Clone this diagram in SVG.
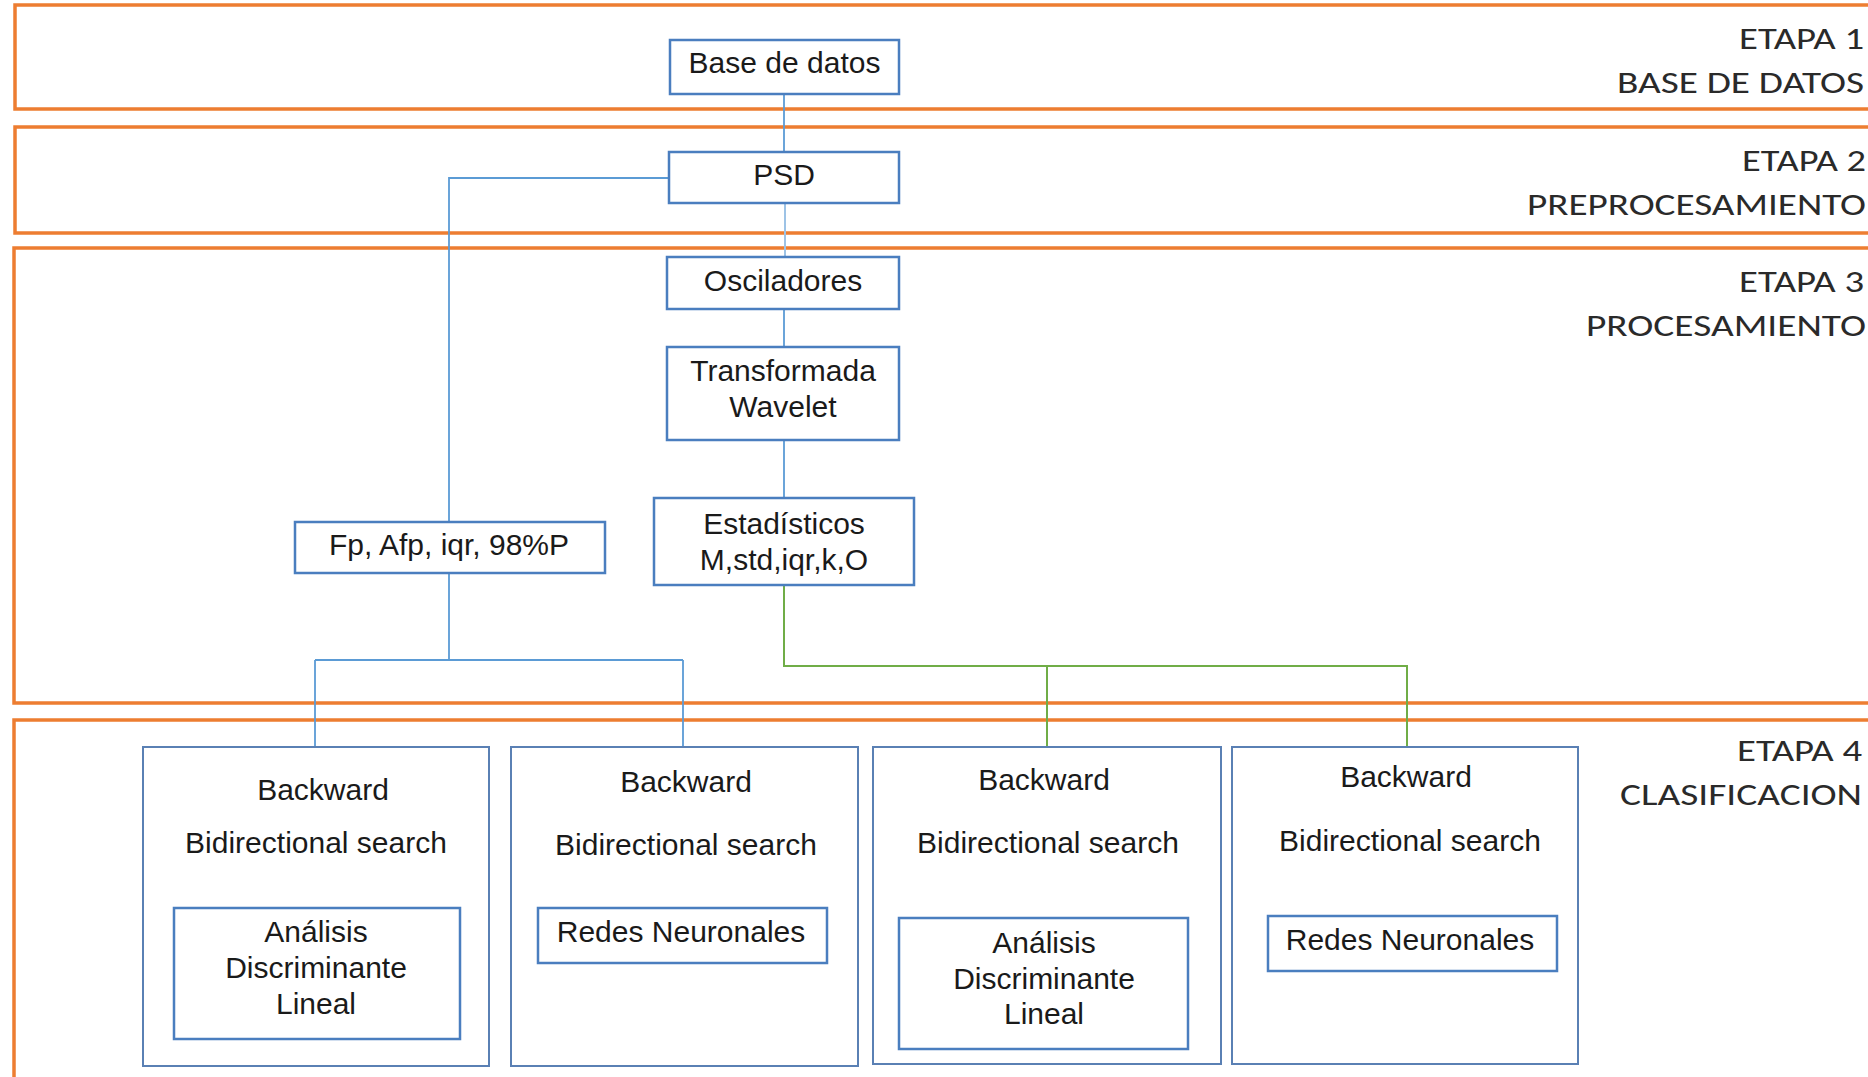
<svg xmlns="http://www.w3.org/2000/svg" width="1868" height="1077" viewBox="0 0 1868 1077">
<style>
.band{fill:none;stroke:#ED7D31;stroke-width:3.5}
.node{fill:#fff;stroke:#4A7EBF;stroke-width:2.5}
.outer{fill:#fff;stroke:#5A80B4;stroke-width:2}
.t{font-family:"Liberation Sans",Arial,sans-serif;font-size:30px;fill:#1a1a1a;text-anchor:middle}
.e{font-family:Carlito,Lato,"Open Sans",sans-serif;font-size:30px;font-weight:300;fill:#2a2a2a;text-anchor:end}
.cb{fill:none;stroke:#5B9BD5;stroke-width:1.8}
.cl{fill:none;stroke:#9DC3E6;stroke-width:2}
.cg{fill:none;stroke:#70AD47;stroke-width:2}
</style>
<rect width="1868" height="1077" fill="#fff"/>
<g id="bands">
<rect class="band" x="15" y="5" width="1900" height="104"/>
<rect class="band" x="15" y="127" width="1900" height="106"/>
<rect class="band" x="14" y="248" width="1900" height="455"/>
<rect class="band" x="14" y="720" width="1900" height="400"/>
</g>
<g id="labels">
<text class="e" x="1864" y="49" textLength="125" lengthAdjust="spacingAndGlyphs">ETAPA 1</text>
<text class="e" x="1864" y="93" textLength="247" lengthAdjust="spacingAndGlyphs">BASE DE DATOS</text>
<text class="e" x="1866" y="171" textLength="124" lengthAdjust="spacingAndGlyphs">ETAPA 2</text>
<text class="e" x="1866" y="215" textLength="339" lengthAdjust="spacingAndGlyphs">PREPROCESAMIENTO</text>
<text class="e" x="1864" y="292" textLength="125" lengthAdjust="spacingAndGlyphs">ETAPA 3</text>
<text class="e" x="1866" y="336" textLength="280" lengthAdjust="spacingAndGlyphs">PROCESAMIENTO</text>
<text class="e" x="1862" y="761" textLength="125" lengthAdjust="spacingAndGlyphs">ETAPA 4</text>
<text class="e" x="1862" y="805" textLength="242" lengthAdjust="spacingAndGlyphs">CLASIFICACION</text>
</g>
<g id="connectors">
<path class="cb" d="M784,94 V152"/>
<path class="cb" d="M669,178 H449 V522"/>
<path class="cl" d="M785,203 V257"/>
<path class="cb" d="M784,309 V347"/>
<path class="cb" d="M784,440 V498"/>
<path class="cb" d="M449,573 V660 M315,660 H683 M315,660 V747 M683,660 V747"/>
<path class="cg" d="M784,586 V666 H1407 V747 M1047,666 V747"/>
</g>
<g id="base-de-datos"><rect class="node" x="670" y="40" width="229" height="54"/><text class="t" x="784.5" y="73">Base de datos</text></g>
<g id="psd"><rect class="node" x="669" y="152" width="230" height="51"/><text class="t" x="784" y="185">PSD</text></g>
<g id="osciladores"><rect class="node" x="667" y="257" width="232" height="52"/><text class="t" x="783" y="291">Osciladores</text></g>
<g id="transformada"><rect class="node" x="667" y="347" width="232" height="93"/><text class="t" x="783" y="381">Transformada</text><text class="t" x="783" y="417">Wavelet</text></g>
<g id="estadisticos"><rect class="node" x="654" y="498" width="260" height="87"/><text class="t" x="784" y="534">Estadísticos</text><text class="t" x="784" y="570">M,std,iqr,k,O</text></g>
<g id="fp"><rect class="node" x="295" y="522" width="310" height="51"/><text class="t" x="449" y="555">Fp, Afp, iqr, 98%P</text></g>
<g id="clas-a">
<rect class="outer" x="143" y="747" width="346" height="319"/>
<text class="t" x="323" y="800">Backward</text>
<text class="t" x="316" y="853">Bidirectional search</text>
<rect class="node" x="174" y="908" width="286" height="131"/>
<text class="t" x="316" y="942">Análisis</text><text class="t" x="316" y="978">Discriminante</text><text class="t" x="316" y="1014">Lineal</text>
</g>
<g id="clas-b">
<rect class="outer" x="511" y="747" width="347" height="319"/>
<text class="t" x="686" y="792">Backward</text>
<text class="t" x="686" y="855">Bidirectional search</text>
<rect class="node" x="538" y="908" width="289" height="55"/>
<text class="t" x="681" y="942">Redes Neuronales</text>
</g>
<g id="clas-c">
<rect class="outer" x="873" y="747" width="348" height="317"/>
<text class="t" x="1044" y="790">Backward</text>
<text class="t" x="1048" y="853">Bidirectional search</text>
<rect class="node" x="899" y="918" width="289" height="131"/>
<text class="t" x="1044" y="953">Análisis</text><text class="t" x="1044" y="989">Discriminante</text><text class="t" x="1044" y="1024">Lineal</text>
</g>
<g id="clas-d">
<rect class="outer" x="1232" y="747" width="346" height="317"/>
<text class="t" x="1406" y="787">Backward</text>
<text class="t" x="1410" y="851">Bidirectional search</text>
<rect class="node" x="1268" y="916" width="289" height="55"/>
<text class="t" x="1410" y="950">Redes Neuronales</text>
</g>
</svg>
